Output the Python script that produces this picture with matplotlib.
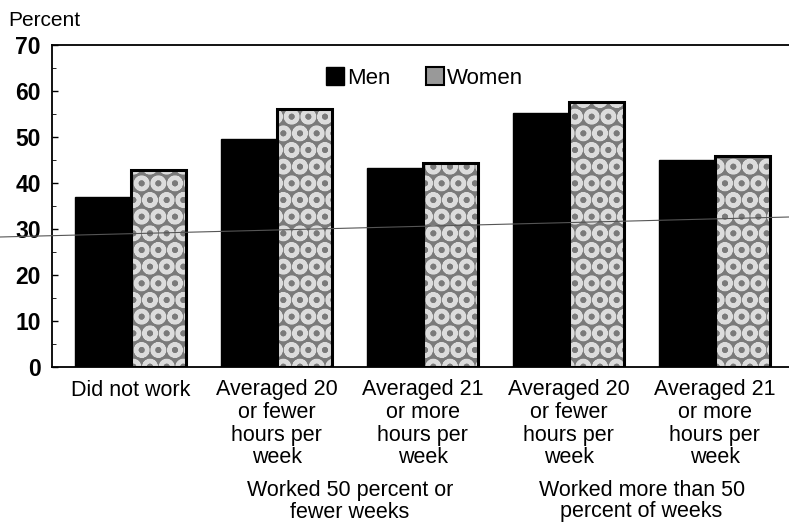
import numpy as np
import matplotlib
matplotlib.use("Agg")
import matplotlib.pyplot as plt
from matplotlib.patches import Patch
from matplotlib.lines import Line2D

# data
categories = ["Did not work",
              "Averaged 20\nor fewer\nhours per\nweek",
              "Averaged 21\nor more\nhours per\nweek",
              "Averaged 20\nor fewer\nhours per\nweek",
              "Averaged 21\nor more\nhours per\nweek"]
men = [37.0, 49.5, 43.3, 55.2, 45.1]
women = [42.8, 56.1, 44.4, 57.6, 45.8]
groups = ["Worked 50 percent or\nfewer weeks", "Worked more than 50\npercent of weeks"]
group_members = [(1, 2), (3, 4)]
yticks = [0, 10, 20, 30, 40, 50, 60, 70]

plt.rcParams['font.family'] = ['Liberation Sans', 'DejaVu Sans']
plt.rcParams['hatch.linewidth'] = 3.0

fs = 15.5
women_face = '#7a7a7a'

fig = plt.figure(figsize=(7.89, 5.25), dpi=100)
ax = fig.add_axes([52 / 789, 1 - 367 / 525, 1 - 52 / 789, 322 / 525])

x = np.arange(len(categories))
w = 0.38
ax.bar(x - w / 2, men, w, color='black', edgecolor='black', linewidth=1)
ax.bar(x + w / 2, women, w, color=women_face, edgecolor='#dcdcdc', hatch='O', linewidth=0)
ax.bar(x + w / 2, women, w, color='none', edgecolor='black', linewidth=2.2)

ax.set_xlim(-0.54, 4.51)
ax.set_ylim(0, 70)
ax.set_yticks(yticks)
ax.set_yticks(np.arange(5, 70, 10), minor=True)
ax.tick_params(axis='y', direction='in', length=4, width=1, labelsize=16.5, pad=8)
ax.tick_params(axis='y', which='minor', direction='in', length=3)
for t in ax.get_yticklabels():
    t.set_fontweight('bold')
ax.set_xticks(x)
ax.set_xticklabels(categories, fontsize=fs, linespacing=1.1, va='top')
ax.tick_params(axis='x', length=0, pad=9)
ax.spines['right'].set_visible(False)
for s in ['left', 'top', 'bottom']:
    ax.spines[s].set_linewidth(1.3)

fig.text(8 / 789, 1 - 20 / 525, "Percent", fontsize=15, va='center', ha='left')

# group labels under the categories
for label, (a, b) in zip(groups, group_members):
    ax.text((a + b) / 2, -0.35, label, transform=ax.get_xaxis_transform(),
            ha='center', va='top', fontsize=fs, linespacing=1.05)

handles = [Patch(facecolor='black', edgecolor='black'),
           Patch(facecolor='#999999', edgecolor='black', linewidth=1.5)]
ax.legend(handles, ["Men", "Women"], loc='center', bbox_to_anchor=(0.505, 0.897),
          ncol=2, frameon=False, fontsize=16, handlelength=0.85, handleheight=0.85,
          handletextpad=0.1, columnspacing=1.6)

# faint line across the scanned page
fig.add_artist(Line2D([0, 1], [1 - 237 / 525, 1 - 217 / 525], color='#555555', lw=0.8))

fig.savefig("out.png", dpi=100)
